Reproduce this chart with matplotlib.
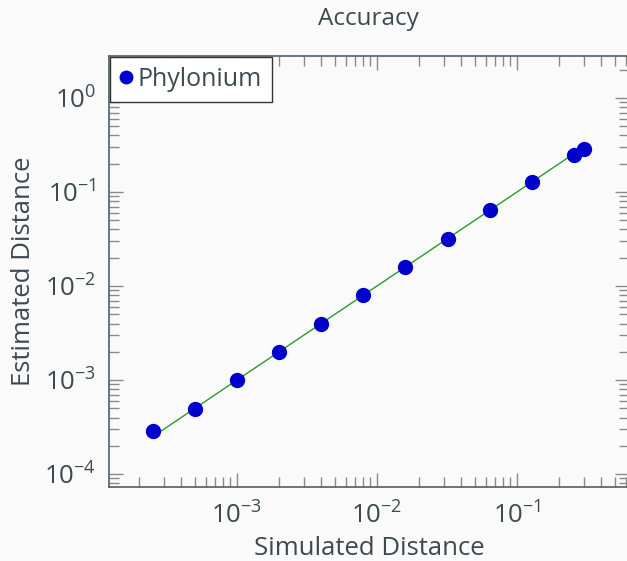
import numpy as np
import matplotlib.pyplot as plt
from matplotlib.ticker import LogLocator, NullFormatter

plt.rcParams['font.family'] = ['Open Sans', 'DejaVu Sans']
plt.rcParams['mathtext.fontset'] = 'custom'
plt.rcParams['mathtext.rm'] = 'Open Sans'
plt.rcParams['mathtext.it'] = 'Open Sans'

sim_dist = [0.00025, 0.0005, 0.001, 0.002, 0.004, 0.008, 0.016, 0.032, 0.064, 0.128, 0.256, 0.3]
est_dist = [0.00029, 0.00049, 0.001, 0.002, 0.004, 0.008, 0.016, 0.032, 0.064, 0.128, 0.245, 0.29]

text_col = '#3c4a50'
bg = '#fafafa'

fig = plt.figure(figsize=(6.27, 5.61), dpi=100, facecolor=bg)
ax = fig.add_axes([0.1738, 0.1319, 0.829, 0.7683], facecolor=bg)

ax.plot(sim_dist, sim_dist, color='#2a9a2a', linewidth=1, zorder=2)
ax.plot(sim_dist, est_dist, 'o', color='#0000cc', markersize=10, label='Phylonium', zorder=3)

ax.set_xscale('log')
ax.set_yscale('log')
ax.set_xlim(1.22e-4, 0.63)
ax.set_ylim(7.3e-5, 2.8)

for a in (ax.xaxis, ax.yaxis):
    a.set_major_locator(LogLocator(base=10, numticks=12))
    a.set_minor_locator(LogLocator(base=10, subs=np.arange(2, 10), numticks=12))
    a.set_minor_formatter(NullFormatter())

ax.tick_params(which='both', direction='in', top=True, right=True, color='#8a8a8a',
               labelcolor=text_col, labelsize=18.5)
ax.tick_params(which='major', length=10, width=1)
ax.tick_params(axis='x', which='major', pad=11)
ax.tick_params(axis='y', which='major', pad=9)
ax.tick_params(which='minor', length=7, width=1)

for s in ax.spines.values():
    s.set_color('#50606a')
    s.set_linewidth(1.2)

ax.set_title('Accuracy', color=text_col, fontsize=17.5, pad=22)
ax.set_xlabel('Simulated Distance', color=text_col, fontsize=18.5, labelpad=5)
ax.set_ylabel('Estimated Distance', color=text_col, fontsize=18.5, labelpad=6)

leg = ax.legend(loc='upper left', fontsize=18, frameon=True, fancybox=False,
                borderaxespad=0.05, handletextpad=0.2, handlelength=0.5,
                borderpad=0.4, markerscale=0.9, labelcolor=text_col)
leg.get_frame().set_edgecolor('#333333')
leg.get_frame().set_facecolor('white')
leg.get_frame().set_alpha(1)

fig.savefig('out.png', dpi=100, facecolor=bg)
